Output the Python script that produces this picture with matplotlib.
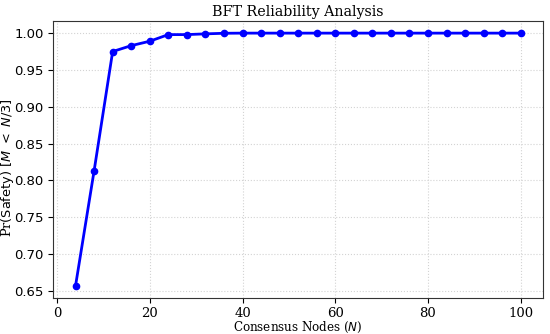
import matplotlib
matplotlib.use("Agg")
import matplotlib.pyplot as plt

nodes = [4, 8, 12, 16, 20, 24, 28, 32, 36, 40, 44, 48, 52, 56, 60, 64, 68, 72, 76, 80, 84, 88, 92, 96, 100]
safety = [0.657, 0.813, 0.975, 0.983, 0.989, 0.998, 0.998, 0.999, 0.9998, 1.0, 1.0, 1.0, 1.0, 1.0,
          1.0, 1.0, 1.0, 1.0, 1.0, 1.0, 1.0, 1.0, 1.0, 1.0, 1.0]
yticks = [0.65, 0.70, 0.75, 0.80, 0.85, 0.90, 0.95, 1.00]
xticks = [0, 20, 40, 60, 80, 100]

fig = plt.figure(figsize=(5.5, 3.34), dpi=100)
ax = fig.add_axes([53.3/550, 1-298.3/334, (543-53.3)/550, (298.3-20.5)/334])
ax.plot(nodes, safety, color='blue', marker='o', markersize=4.5, linewidth=2)
ax.set_xticks(xticks)
ax.set_yticks(yticks)
ax.set_yticklabels([f"{v:.2f}" for v in yticks], family='DejaVu Sans', fontsize=9.5)
ax.set_xticklabels([str(v) for v in xticks], family='DejaVu Serif', fontsize=9.5)
ax.tick_params(axis='x', pad=2.5)
ax.grid(True, linestyle=':', color='lightgray', linewidth=0.8)
ax.set_title('BFT Reliability Analysis', family='DejaVu Serif', fontsize=10.3, pad=3)
ax.set_xlabel('Consensus Nodes ($N$)', family='DejaVu Serif', fontsize=8.6)
ax.set_ylabel(r'Pr$(\mathrm{Safety})\ [M\ <\ N/3]$', family='DejaVu Serif', fontsize=9.3)
ax.xaxis.set_label_coords(0.5, (298.3-319.5)/277.8)
ax.yaxis.set_label_coords(-37.5/489.7, 0.469)
for s in ax.spines.values():
    s.set_color('#333333')
fig.savefig('out.png', dpi=100)
